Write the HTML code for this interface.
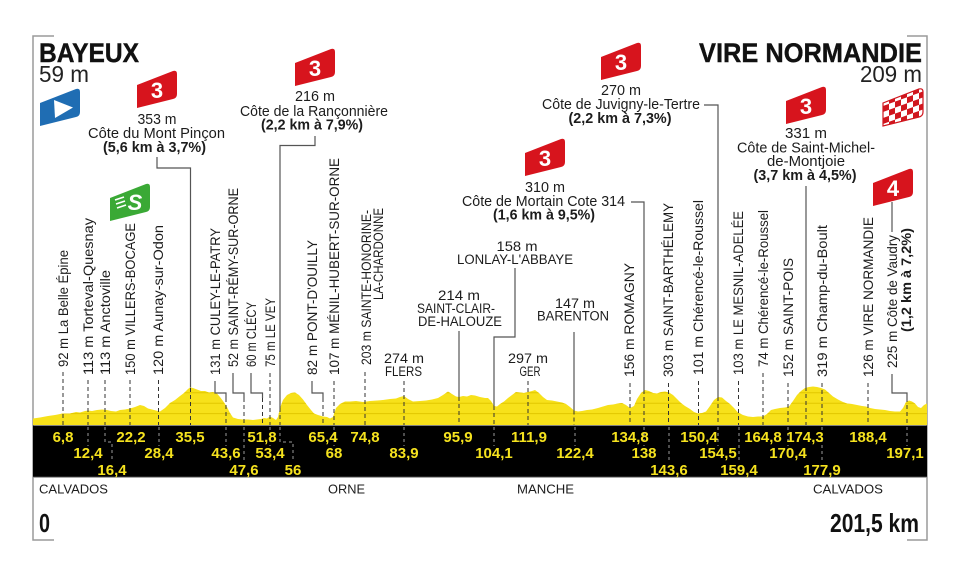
<!DOCTYPE html>
<html><head><meta charset="utf-8"><style>
html,body{margin:0;padding:0;background:#fff;}
svg{display:block;}
text{font-family:"Liberation Sans",Arial,sans-serif;}
</style></head><body>
<svg width="960" height="577" viewBox="0 0 960 577" xmlns="http://www.w3.org/2000/svg">
<defs>
<path id="bdg" d="M0,15 L36,1 Q40,0 40,4 L40,24 Q40,28 36,29 L0,38 Z"/>
<path id="prof" d="M33,425 L33,418.5 L40,417.5 L48,416 L55,415 L63,413.5 L70,413.5 L76,412 L80,412.5 L85,411 L88,410.5 L92,411 L97,410 L102,409.5 L107,410 L111,411 L116,411.5 L120,410 L125,409.5 L130,408.5 L135,407 L140,405 L144,406 L148,408.5 L152,409.5 L156,410.5 L160,411.5 L165,408 L170,403 L175,400 L180,396 L184,393 L188,389 L190,387.5 L193,388 L197,389.5 L201,391 L205,391 L209,392.5 L213,392 L217,393.5 L220,397 L223,401 L227,407 L230,413 L233,417.5 L238,419 L243,419.5 L248,419.5 L253,420 L257,419.5 L261,419 L264,418 L267,418.5 L270,416.5 L273,418 L276,420 L278,417 L280,408 L283,400 L287,395 L291,393 L295,392.5 L299,395 L303,399.5 L307,405 L311,410 L314,413.5 L318,415 L323,416.5 L327,417 L330,418.5 L333,417 L336,408 L340,404 L345,401.5 L350,401.5 L356,401 L363,402 L370,401 L377,400.5 L383,400 L390,399 L396,398.5 L400,397 L404,396 L408,399 L413,401.5 L420,401 L426,400.5 L432,399.5 L438,398 L443,395 L448,391.5 L452,394 L456,396.5 L459,397 L463,396 L467,396.5 L471,395 L475,395.5 L480,397 L485,398 L488,398 L491,401 L494,406 L497,406.5 L500,404 L504,401.5 L508,398 L512,395 L516,392 L520,392.5 L524,393 L528,392 L532,391 L535,390 L539,393 L543,397 L547,400 L552,400.5 L557,401.5 L562,402.5 L566,404 L570,407 L574,410.5 L578,411.5 L582,411 L587,410 L592,409.5 L598,408 L603,406.5 L608,405 L613,404.5 L618,403.5 L622,403 L626,405 L630,408 L634,406 L637,399 L641,393 L645,390 L649,391 L653,393 L657,393.5 L661,392 L665,391.5 L669,392.5 L673,395 L677,399 L681,403 L685,406 L690,409 L694,412 L698,413.5 L702,413 L706,411.5 L710,406 L714,400 L718,397 L722,397.5 L726,401 L730,404 L734,408 L738,412.5 L743,415 L748,416.5 L753,417 L758,416.5 L763,416.5 L767,414 L771,410 L775,409 L780,408 L785,407.5 L789,406.5 L793,401 L797,395 L801,391 L805,388 L809,387 L813,386.5 L817,387 L821,388 L825,389.5 L829,393 L833,396.5 L838,399.5 L843,402 L847,403.5 L852,404 L857,405 L862,406 L866,406.5 L870,408 L875,409 L880,409.5 L885,410 L890,411 L895,411.5 L900,411.5 L903,408 L906,402 L909,400.5 L912,401.5 L915,403.5 L918,407 L921,408 L924,405 L927,403.5 L927,425 Z"/>
<clipPath id="pc"><use href="#prof"/></clipPath>
<clipPath id="fc"><use href="#bdg" x="883" y="88"/></clipPath>
<pattern id="chk" width="12" height="12" patternUnits="userSpaceOnUse" patternTransform="translate(883,88) skewY(-20)">
<rect width="12" height="12" fill="#d0161e"/><rect width="6" height="6" fill="#fff"/><rect x="6" y="6" width="6" height="6" fill="#fff"/>
</pattern>
</defs>

<path d="M54,36 H33 V540 H54" fill="none" stroke="#9a9a9a" stroke-width="1.5"/>
<path d="M907,36 H927 V540 H907" fill="none" stroke="#9a9a9a" stroke-width="1.5"/>

<text x="39" y="62" font-size="26.5" font-weight="bold" fill="#111" stroke="#111" stroke-width="0.4" textLength="100" lengthAdjust="spacingAndGlyphs">BAYEUX</text>
<text x="39" y="82" font-size="23" fill="#222" textLength="50" lengthAdjust="spacingAndGlyphs">59 m</text>
<text x="699" y="62" font-size="26.5" font-weight="bold" fill="#111" stroke="#111" stroke-width="0.4" textLength="223" lengthAdjust="spacingAndGlyphs">VIRE NORMANDIE</text>
<text x="860" y="82" font-size="23" fill="#222" textLength="62" lengthAdjust="spacingAndGlyphs">209 m</text>

<use href="#prof" fill="#f7e11a"/>
<g clip-path="url(#pc)" stroke="#e2c700" stroke-width="1">
<line x1="33" y1="413.6" x2="927" y2="413.6"/>
<line x1="33" y1="403.2" x2="927" y2="403.2"/>
<line x1="33" y1="392.8" x2="927" y2="392.8"/>
</g>

<rect x="33" y="425.5" width="894" height="51.5" fill="#000"/>
<line x1="33" y1="477.3" x2="927" y2="477.3" stroke="#8a8a8a" stroke-width="1"/>

<g fill="none" stroke="#555" stroke-width="1.2">
<path d="M157,157 V168 H190.5 V387.5"/>
<path d="M315,136 V145.5 H280 V408"/>
<path d="M704,105 H718 V397"/>
<path d="M631,202 H644 V390"/>
<path d="M806,186 V387"/>
<path d="M459,331 V397"/>
<path d="M515,268 V337 H494 V406"/>
<path d="M574,332 V410.5"/>
<path d="M892,232 V202"/>
<path d="M215,381 V393 H226 V398"/>
<path d="M233,373 V393 H244 V398"/>
<path d="M251,373 V393 H262.5 V398"/>
<path d="M312,381 V393 H323 V398"/>
<path d="M892,374 V393 H907 V398"/>
</g>

<g fill="none" stroke="#333" stroke-width="1" stroke-dasharray="4 3">
<path d="M63,372 V425"/>
<path d="M88,380 V425"/>
<path d="M105,380 V425"/>
<path d="M130,380 V425"/>
<path d="M158.5,380 V425"/>
<path d="M226,398 V425"/>
<path d="M244,398 V425"/>
<path d="M262.5,398 V425"/>
<path d="M270,373 V425"/>
<path d="M323,398 V425"/>
<path d="M334,381 V425"/>
<path d="M365,372 V425"/>
<path d="M404,381 V425"/>
<path d="M528,381 V425"/>
<path d="M630,383 V425"/>
<path d="M668.5,383 V425"/>
<path d="M698.5,381 V425"/>
<path d="M738.5,381 V425"/>
<path d="M763,373 V425"/>
<path d="M788,383 V425"/>
<path d="M822,383 V425"/>
<path d="M868,383 V425"/>
<path d="M907,398 V425"/>
<path d="M190.5,388 V425"/>
<path d="M280,408 V425"/>
<path d="M718,397 V425"/>
<path d="M644,390 V425"/>
<path d="M806,387 V425"/>
<path d="M459,397 V425"/>
<path d="M494,406 V425"/>
<path d="M574,410.5 V425"/>
</g>

<g fill="none" stroke="#9a9a9a" stroke-width="1" stroke-dasharray="3 3">
<path d="M88,427 V446"/><path d="M159,427 V446"/><path d="M226,427 V446"/><path d="M270,427 V446"/>
<path d="M334,427 V446"/><path d="M404,427 V446"/><path d="M494,427 V446"/><path d="M575,427 V446"/>
<path d="M644,427 V446"/><path d="M718,427 V446"/><path d="M788,427 V446"/><path d="M907,427 V446"/>
<path d="M244,427 V462"/><path d="M669,427 V462"/><path d="M739,427 V462"/><path d="M822,427 V462"/>
<path d="M105,427 V442 H112 V462"/><path d="M280,427 V442 H293 V462"/>
</g>

<g font-size="15" font-weight="bold" fill="#f5e21e" text-anchor="middle">
<text x="63" y="442">6,8</text><text x="131" y="442">22,2</text><text x="190" y="442">35,5</text>
<text x="262" y="442">51,8</text><text x="323" y="442">65,4</text><text x="365" y="442">74,8</text>
<text x="458" y="442">95,9</text><text x="529" y="442">111,9</text><text x="630" y="442">134,8</text>
<text x="699" y="442">150,4</text><text x="763" y="442">164,8</text><text x="805" y="442">174,3</text>
<text x="868" y="442">188,4</text>
<text x="88" y="458">12,4</text><text x="159" y="458">28,4</text><text x="226" y="458">43,6</text>
<text x="270" y="458">53,4</text><text x="334" y="458">68</text><text x="404" y="458">83,9</text>
<text x="494" y="458">104,1</text><text x="575" y="458">122,4</text><text x="644" y="458">138</text>
<text x="718" y="458">154,5</text><text x="788" y="458">170,4</text><text x="905" y="458">197,1</text>
<text x="112" y="475">16,4</text><text x="244" y="475">47,6</text><text x="293" y="475">56</text>
<text x="669" y="475">143,6</text><text x="739" y="475">159,4</text><text x="822" y="475">177,9</text>
</g>

<g font-size="14" fill="#1c1c1c">
<text transform="translate(63,367) rotate(-90)" dy="0.35em" textLength="117" lengthAdjust="spacingAndGlyphs">92 m La Belle Épine</text>
<text transform="translate(88,375) rotate(-90)" dy="0.35em" textLength="157" lengthAdjust="spacingAndGlyphs">113 m Torteval-Quesnay</text>
<text transform="translate(105,375) rotate(-90)" dy="0.35em" textLength="105" lengthAdjust="spacingAndGlyphs">113 m Anctoville</text>
<text transform="translate(130,375) rotate(-90)" dy="0.35em" textLength="152" lengthAdjust="spacingAndGlyphs">150 m VILLERS-BOCAGE</text>
<text transform="translate(158,375) rotate(-90)" dy="0.35em" textLength="150" lengthAdjust="spacingAndGlyphs">120 m Aunay-sur-Odon</text>
<text transform="translate(215,375) rotate(-90)" dy="0.35em" textLength="147" lengthAdjust="spacingAndGlyphs">131 m CULEY-LE-PATRY</text>
<text transform="translate(233,367) rotate(-90)" dy="0.35em" textLength="179" lengthAdjust="spacingAndGlyphs">52 m SAINT-RÉMY-SUR-ORNE</text>
<text transform="translate(251,367) rotate(-90)" dy="0.35em" textLength="65" lengthAdjust="spacingAndGlyphs">60 m CLÉCY</text>
<text transform="translate(270,367) rotate(-90)" dy="0.35em" textLength="69" lengthAdjust="spacingAndGlyphs">75 m LE VEY</text>
<text transform="translate(312,375) rotate(-90)" dy="0.35em" textLength="135" lengthAdjust="spacingAndGlyphs">82 m PONT-D'OUILLY</text>
<text transform="translate(334,375) rotate(-90)" dy="0.35em" textLength="217" lengthAdjust="spacingAndGlyphs">107 m MÉNIL-HUBERT-SUR-ORNE</text>
<text transform="translate(366,365) rotate(-90)" dy="0.35em" textLength="155" lengthAdjust="spacingAndGlyphs">203 m SAINTE-HONORINE-</text>
<text transform="translate(378,300) rotate(-90)" dy="0.35em" textLength="92" lengthAdjust="spacingAndGlyphs">LA-CHARDONNE</text>
<text transform="translate(629,377) rotate(-90)" dy="0.35em" textLength="114" lengthAdjust="spacingAndGlyphs">156 m ROMAGNY</text>
<text transform="translate(668,377) rotate(-90)" dy="0.35em" textLength="174" lengthAdjust="spacingAndGlyphs">303 m SAINT-BARTHÉLEMY</text>
<text transform="translate(698,375) rotate(-90)" dy="0.35em" textLength="175" lengthAdjust="spacingAndGlyphs">101 m Chérencé-le-Roussel</text>
<text transform="translate(738,375) rotate(-90)" dy="0.35em" textLength="164" lengthAdjust="spacingAndGlyphs">103 m LE MESNIL-ADELÉE</text>
<text transform="translate(763,367) rotate(-90)" dy="0.35em" textLength="157" lengthAdjust="spacingAndGlyphs">74 m Chérencé-le-Roussel</text>
<text transform="translate(788,377) rotate(-90)" dy="0.35em" textLength="119" lengthAdjust="spacingAndGlyphs">152 m SAINT-POIS</text>
<text transform="translate(822,377) rotate(-90)" dy="0.35em" textLength="152" lengthAdjust="spacingAndGlyphs">319 m Champ-du-Boult</text>
<text transform="translate(868,377) rotate(-90)" dy="0.35em" textLength="160" lengthAdjust="spacingAndGlyphs">126 m VIRE NORMANDIE</text>
<text transform="translate(892,368) rotate(-90)" dy="0.35em" textLength="133" lengthAdjust="spacingAndGlyphs">225 m Côte de Vaudry</text>
<text transform="translate(906,332) rotate(-90)" dy="0.35em" font-weight="bold" textLength="104" lengthAdjust="spacingAndGlyphs">(1,2 km à 7,2%)</text>
</g>

<g font-size="14.5" fill="#1c1c1c" text-anchor="middle">
<text x="157" y="124" textLength="39" lengthAdjust="spacingAndGlyphs">353 m</text>
<text x="156.5" y="138" textLength="137" lengthAdjust="spacingAndGlyphs">Côte du Mont Pinçon</text>
<text x="154.5" y="152" font-weight="bold" textLength="103" lengthAdjust="spacingAndGlyphs">(5,6 km à 3,7%)</text>

<text x="315" y="101" textLength="40" lengthAdjust="spacingAndGlyphs">216 m</text>
<text x="314" y="116" textLength="148" lengthAdjust="spacingAndGlyphs">Côte de la Rançonnière</text>
<text x="312" y="129.5" font-weight="bold" textLength="102" lengthAdjust="spacingAndGlyphs">(2,2 km à 7,9%)</text>

<text x="621" y="95" textLength="40" lengthAdjust="spacingAndGlyphs">270 m</text>
<text x="621" y="109" textLength="158" lengthAdjust="spacingAndGlyphs">Côte de Juvigny-le-Tertre</text>
<text x="620" y="123" font-weight="bold" textLength="103" lengthAdjust="spacingAndGlyphs">(2,2 km à 7,3%)</text>

<text x="545" y="192" textLength="40" lengthAdjust="spacingAndGlyphs">310 m</text>
<text x="543.5" y="206" textLength="163" lengthAdjust="spacingAndGlyphs">Côte de Mortain Cote 314</text>
<text x="544" y="219.5" font-weight="bold" textLength="102" lengthAdjust="spacingAndGlyphs">(1,6 km à 9,5%)</text>

<text x="806" y="138" textLength="42" lengthAdjust="spacingAndGlyphs">331 m</text>
<text x="806" y="152.5" textLength="138" lengthAdjust="spacingAndGlyphs">Côte de Saint-Michel-</text>
<text x="806" y="166" textLength="78" lengthAdjust="spacingAndGlyphs">de-Montjoie</text>
<text x="805" y="180" font-weight="bold" textLength="103" lengthAdjust="spacingAndGlyphs">(3,7 km à 4,5%)</text>
</g>

<g font-size="13.5" fill="#1c1c1c" text-anchor="middle">
<text x="517" y="251" textLength="41" lengthAdjust="spacingAndGlyphs">158 m</text>
<text x="515" y="264" textLength="116" lengthAdjust="spacingAndGlyphs">LONLAY-L'ABBAYE</text>
<text x="459" y="300" textLength="42" lengthAdjust="spacingAndGlyphs">214 m</text>
<text x="456" y="313" textLength="78" lengthAdjust="spacingAndGlyphs">SAINT-CLAIR-</text>
<text x="460" y="326" textLength="84" lengthAdjust="spacingAndGlyphs">DE-HALOUZE</text>
<text x="575" y="308" textLength="40" lengthAdjust="spacingAndGlyphs">147 m</text>
<text x="573" y="320.5" textLength="72" lengthAdjust="spacingAndGlyphs">BARENTON</text>
<text x="404" y="363" textLength="40" lengthAdjust="spacingAndGlyphs">274 m</text>
<text x="403.5" y="376" textLength="37" lengthAdjust="spacingAndGlyphs">FLERS</text>
<text x="528" y="363" textLength="40" lengthAdjust="spacingAndGlyphs">297 m</text>
<text x="530" y="376" textLength="21" lengthAdjust="spacingAndGlyphs">GER</text>
</g>

<g>
<use href="#bdg" x="137" y="70" fill="#d7141d"/>
<use href="#bdg" x="295" y="48" fill="#d7141d"/>
<use href="#bdg" x="601" y="42" fill="#d7141d"/>
<use href="#bdg" x="525" y="138" fill="#d7141d"/>
<use href="#bdg" x="786" y="86" fill="#d7141d"/>
<use href="#bdg" x="873" y="168" fill="#d7141d"/>
<use href="#bdg" x="40" y="88" fill="#1f6db3"/>
<use href="#bdg" x="110" y="183" fill="#3aa935"/>
<rect x="883" y="80" width="44" height="50" fill="url(#chk)" clip-path="url(#fc)"/>
<use href="#bdg" x="883" y="88" fill="none" stroke="#d0161e" stroke-width="1.2"/>
</g>
<g font-size="22" font-weight="bold" fill="#fff" text-anchor="middle">
<text x="157" y="98">3</text>
<text x="315" y="76">3</text>
<text x="621" y="70">3</text>
<text x="545" y="166">3</text>
<text x="806" y="114">3</text>
<text x="893" y="196">4</text>
</g>
<polygon points="54,100 73,107.5 55,118" fill="#fff"/>
<text x="135" y="210" font-size="22" font-weight="bold" font-style="italic" fill="#fff" text-anchor="middle">S</text>
<g stroke="#fff" stroke-width="1.6">
<line x1="115" y1="200" x2="124" y2="197"/>
<line x1="116" y1="204" x2="125" y2="201"/>
<line x1="117" y1="208" x2="126" y2="205"/>
</g>

<g font-size="13" fill="#1c1c1c">
<text x="39" y="493.5" textLength="69" lengthAdjust="spacingAndGlyphs">CALVADOS</text>
<text x="328" y="493.5" textLength="37" lengthAdjust="spacingAndGlyphs">ORNE</text>
<text x="517" y="493.5" textLength="57" lengthAdjust="spacingAndGlyphs">MANCHE</text>
<text x="813" y="493.5" textLength="70" lengthAdjust="spacingAndGlyphs">CALVADOS</text>
</g>
<text x="39" y="532" font-size="26" font-weight="bold" fill="#111" textLength="11" lengthAdjust="spacingAndGlyphs">0</text>
<text x="830" y="532" font-size="26" font-weight="bold" fill="#111" textLength="89" lengthAdjust="spacingAndGlyphs">201,5 km</text>
</svg>
</body></html>
